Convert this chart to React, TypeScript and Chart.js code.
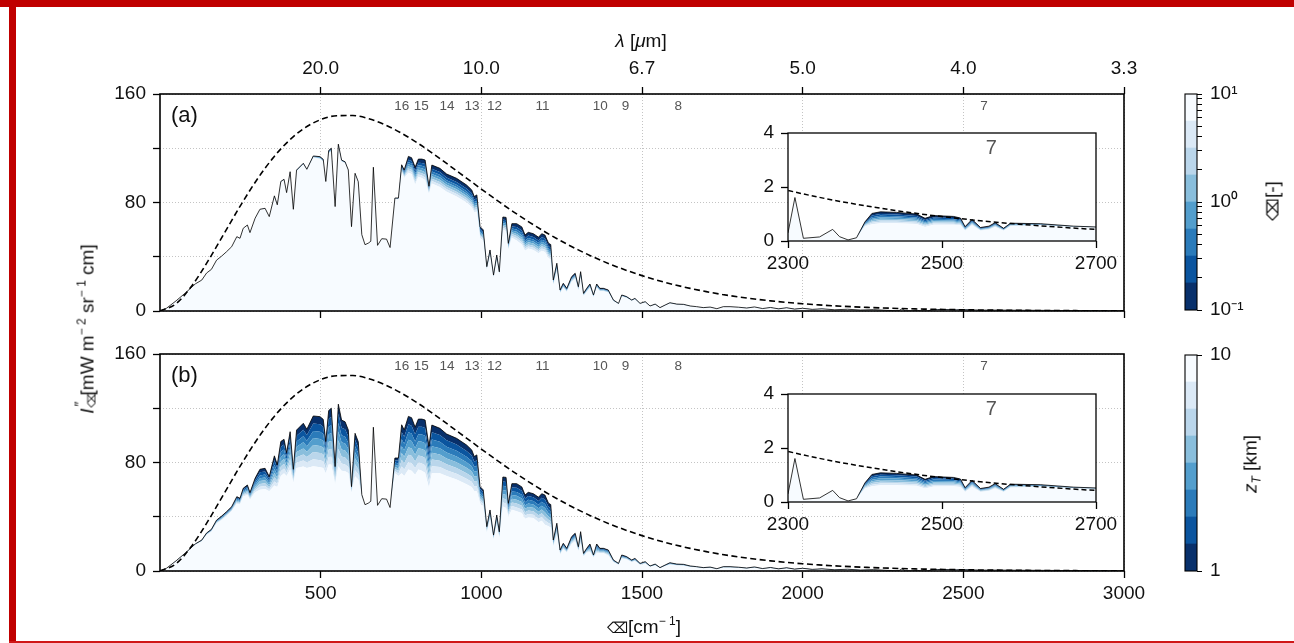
import React, { useEffect, useRef } from 'react';
import { Chart, registerables } from 'chart.js';
Chart.register(...registerables);

const FONT = '"Liberation Sans", Arial, Helvetica, sans-serif';

// ---------- data ----------
const nu = [
  0, 20, 50, 80, 110, 130, 145, 160, 176, 192,
  207, 223, 239, 249, 259, 272, 280, 296, 311, 327,
  340, 356, 365, 376, 386, 394, 405, 415, 425, 446,
  457, 477, 498, 508, 516, 525, 533, 545, 555, 565,
  576, 586, 596, 607, 617, 628, 638, 648, 656, 664,
  677, 690, 705, 716, 731, 742, 752, 760, 773, 783,
  794, 804, 815, 825, 837, 846, 871, 892, 923, 954,
  970, 978, 986, 996, 1006, 1017, 1027, 1038, 1048, 1056,
  1067, 1077, 1084, 1095, 1110, 1126, 1136, 1146, 1162, 1178,
  1188, 1198, 1209, 1216, 1224, 1235, 1245, 1255, 1266, 1281,
  1292, 1302, 1309, 1318, 1328, 1338, 1349, 1359, 1369, 1380,
  1395, 1411, 1427, 1437, 1452, 1468, 1478, 1494, 1510, 1525,
  1541, 1556, 1572, 1587, 1608, 1629, 1650, 1670, 1691, 1712,
  1733, 1753, 1774, 1800, 1826, 1850, 1875, 1900, 1925, 1950,
  1975, 2000, 2030, 2060, 2100, 2140, 2180, 2220, 2260, 2290,
  2300, 2309, 2320, 2341, 2358, 2367, 2378, 2389, 2400, 2409,
  2420, 2441, 2467, 2478, 2489, 2515, 2524, 2530, 2539, 2550,
  2561, 2569, 2580, 2589, 2628, 2671, 2700, 2750, 2800, 2850,
  2900, 2950, 3000,
];

// top (thinnest / darkest) spectrum, black line
const radTop = [
  0, 2, 7.5, 13.5, 20, 22.8, 28, 30.7, 37.5, 40.5,
  43.7, 47.4, 54.8, 53.6, 61, 63.4, 57.8, 68.4, 75, 75.7,
  69.6, 84.9, 78.3, 95.5, 97.1, 87.3, 102.7, 75, 103.9, 108.9,
  104.5, 114.3, 113.8, 111.8, 95.5, 118.3, 120, 77, 123, 111.3,
  110, 104, 62.2, 101.5, 95.3, 56.3, 48.9, 50, 51.4, 106,
  48.4, 53.3, 53, 46.8, 83.3, 83.3, 107.8, 104, 114, 113,
  106, 112, 112, 111.3, 92, 107.6, 105.2, 101, 97.8, 92.9,
  89.3, 84.4, 85.6, 62.2, 59.8, 32.7, 45, 26.5, 41.3, 28.9,
  69.3, 69, 49.9, 64.4, 64.4, 62, 56, 58, 57, 54.4,
  57, 56, 50, 49, 22.9, 35.2, 15.5, 20.4, 16.7, 25.3,
  27.8, 17.9, 29, 13, 16.7, 19.9, 11.8, 19.9, 16.7, 16.7,
  15.5, 8.1, 5.6, 11.8, 10.6, 8.1, 9.3, 5.6, 6.9, 3.7,
  5.1, 2.5, 4.4, 6.1, 5.1, 4.9, 3.7, 3.2, 2.5, 2.9,
  1.7, 3.2, 3.2, 2.8, 2.2, 3.0, 1.8, 2.6, 1.6, 2.4,
  1.4, 2.0, 1.2, 1.6, 0.9, 1.3, 0.7, 1.0, 0.5, 0.2,
  0.3, 1.61, 0.1, 0.15, 0.43, 0.16, 0.04, 0.12, 0.71, 1.02,
  1.08, 1.06, 1.0, 0.84, 0.94, 0.91, 0.85, 0.53, 0.8, 0.5,
  0.55, 0.68, 0.47, 0.66, 0.64, 0.55, 0.52, 0.45, 0.38, 0.33,
  0.28, 0.23, 0.2,
];

// panel (a): lowest (tau = 10) spectrum, top of the palest fill
const radBaseA = [
  0, 2, 7.5, 13.5, 20, 22.8, 28, 30.7, 37.5, 40.5,
  43.7, 47.4, 54.8, 53.6, 61, 63.4, 57.8, 68.4, 75, 75.5,
  69.6, 84, 78, 95, 96.5, 87, 102, 75, 103, 108,
  104, 113, 112, 110, 95, 116, 117.5, 76, 121, 110,
  109, 103.5, 62.2, 101, 95, 56.3, 48.9, 50, 51.4, 106,
  48.4, 53.3, 53, 46.8, 83, 82, 102.7, 98, 102, 101,
  93, 99, 98, 96.6, 86, 94, 91.5, 88, 84.5, 80,
  76.5, 73, 73.2, 54, 52, 30, 41, 24.5, 37, 26.5,
  60, 59, 45, 54, 52, 49, 44.5, 46, 45, 42.5,
  44.5, 43.5, 39, 38, 19, 29, 13, 17, 14, 21.5,
  23.5, 15, 24.5, 11, 14, 17, 10, 17, 14.5, 14.5,
  13.5, 7.2, 5, 10.5, 9.6, 7.4, 8.5, 5.2, 6.3, 3.4,
  4.7, 2.3, 4, 5.6, 4.7, 4.5, 3.4, 3, 2.3, 2.7,
  1.6, 3, 3, 2.6, 2.0, 2.8, 1.7, 2.4, 1.5, 2.2,
  1.3, 1.9, 1.1, 1.5, 0.85, 1.2, 0.65, 0.95, 0.5, 0.2,
  0.3, 1.61, 0.1, 0.15, 0.43, 0.16, 0.04, 0.12, 0.55, 0.62,
  0.66, 0.66, 0.63, 0.52, 0.6, 0.6, 0.58, 0.38, 0.58, 0.38,
  0.42, 0.52, 0.38, 0.55, 0.58, 0.52, 0.5, 0.43, 0.37, 0.32,
  0.27, 0.22, 0.19,
];

// panel (b): lowest (z_T = 10 km) spectrum, top of the palest fill
const radBaseB = [
  0, 2, 7.3, 13, 19.3, 21.8, 26.5, 29, 35, 37.5,
  40.5, 44, 49.5, 49, 55, 56, 52.6, 58, 60, 60.5,
  58.8, 63, 62, 70, 72, 70, 74.8, 65, 76, 77,
  76, 77.3, 76.5, 76, 72, 78.5, 78.5, 63.7, 77.3, 74,
  73.5, 72.3, 57.5, 69.8, 67.4, 55.5, 48.9, 50, 51.4, 106,
  48.4, 53.3, 53, 46.8, 72, 70, 72, 70, 74.8, 74,
  71, 74.8, 74, 72.5, 61.4, 72.3, 72, 70, 67.4, 64,
  62, 59, 58.8, 50, 47.7, 28, 38, 23, 34, 24,
  47.6, 46.5, 40.2, 45.2, 44, 42.7, 38.5, 39.5, 39, 36,
  37, 34.1, 33, 32, 18, 26.7, 12, 16, 13.5, 20,
  22, 14.5, 20.6, 10.5, 13.5, 14, 10, 13, 13, 13,
  11.5, 6.5, 4.4, 9, 8.5, 6.5, 7.2, 4.4, 5.4, 3,
  4, 2, 3.5, 4.6, 4, 3.8, 2.9, 2.5, 1.9, 2.2,
  1.3, 2.4, 2.4, 2.2, 1.7, 2.3, 1.4, 2.0, 1.2, 1.9,
  1.1, 1.6, 0.9, 1.2, 0.7, 1.0, 0.55, 0.8, 0.45, 0.2,
  0.3, 1.61, 0.1, 0.15, 0.43, 0.16, 0.04, 0.12, 0.5, 0.58,
  0.62, 0.62, 0.6, 0.5, 0.57, 0.58, 0.56, 0.37, 0.56, 0.37,
  0.41, 0.5, 0.37, 0.53, 0.56, 0.5, 0.48, 0.42, 0.36, 0.31,
  0.26, 0.22, 0.19,
];

// dashed surface (blackbody) curve
const planckNu = [
  0, 50, 100, 150, 200, 250, 300, 350, 400, 450,
  500, 550, 600, 650, 700, 750, 800, 850, 900, 950,
  1000, 1050, 1100, 1150, 1200, 1250, 1300, 1350, 1400, 1450,
  1500, 1550, 1600, 1650, 1700, 1750, 1800, 1850, 1900, 1950,
  2000, 2050, 2100, 2150, 2200, 2250, 2300, 2350, 2400, 2450,
  2500, 2550, 2600, 2650, 2700, 2750, 2800, 2850, 2900, 2950, 3000,
];
const planckRad = [
  0, 5.37, 18.87, 37.1, 57.35, 77.57, 96.24, 112.35, 125.3, 134.9,
  141.1, 144.0, 144.1, 141.8, 137.3, 131.3, 124.1, 116.0, 107.4, 98.66,
  89.91, 81.36, 73.15, 65.37, 58.1, 51.4, 45.24, 39.65, 34.62, 30.11,
  26.09, 22.54, 19.41, 16.67, 14.27, 12.19, 10.38, 8.82, 7.49, 6.33,
  5.35, 4.51, 3.8, 3.19, 2.68, 2.24, 1.873, 1.563, 1.305, 1.087,
  0.904, 0.751, 0.623, 0.517, 0.428, 0.354, 0.2925, 0.2416, 0.199, 0.1645, 0.135,
];

// relative thickness of the 7 coloured bands, from the palest upward
const bandSharesA = [0.13, 0.13, 0.13, 0.13, 0.13, 0.15, 0.2];
const bandSharesB = [0.14, 0.14, 0.14, 0.14, 0.14, 0.15, 0.15];
const baseFill = '#f7fbff';
const bandColors = ['#dbe9f6', '#bad6eb', '#89bedc', '#539ecd', '#2b7bba', '#0b559f', '#08306b'];
const colorbarColors = ['#08306b', '#0b559f', '#2b7bba', '#539ecd', '#89bedc', '#bad6eb', '#dbe9f6', '#f7fbff'];

const xTickValues = [500, 1000, 1500, 2000, 2500, 3000];
const lambdaTickLabels = ['20.0', '10.0', '6.7', '5.0', '4.0', '3.3'];
const yTickValues = [0, 40, 80, 120, 160];
const yTickLabels = ['0', '', '80', '', '160'];
const insetXTicks = [2300, 2500, 2700];
const insetYTicks = [0, 2, 4];

const channelLabels = ['16', '15', '14', '13', '12', '11', '10', '9', '8', '7'];
const channelNu = [752, 813, 893, 971, 1041, 1190, 1370, 1449, 1613, 2564];
const insetChannel = '7';

const tauEdges = [0.1, 0.178, 0.316, 0.562, 1, 1.78, 3.16, 5.62, 10];
const tauTickValues = [0.1, 0.2, 0.3, 0.4, 0.5, 0.6, 0.7, 0.8, 0.9, 1, 2, 3, 4, 5, 6, 7, 8, 9, 10];
const tauTickLabels = ['10⁻¹', '', '', '', '', '', '', '', '', '10⁰', '', '', '', '', '', '', '', '', '10¹'];
const zEdges = [1, 2.125, 3.25, 4.375, 5.5, 6.625, 7.75, 8.875, 10];
const zTickValues = [1, 10];
const zTickLabels = ['1', '10'];

// ---------- helpers ----------
function buildDatasets(base: number[], shares: number[], dashW: number, dash: number[]) {
  const curves: { x: number; y: number }[][] = [];
  curves.push(base.map((b, i) => ({ x: nu[i], y: b })));
  let cum = 0;
  shares.forEach((s, k) => {
    cum += s;
    const last = k === shares.length - 1;
    curves.push(base.map((b, i) => ({ x: nu[i], y: last ? radTop[i] : b + cum * (radTop[i] - b) })));
  });
  const ds: any[] = curves.map((c, k) => ({
    data: c,
    pointRadius: 0,
    borderWidth: 0,
    borderColor: 'rgba(0,0,0,0)',
    backgroundColor: k === 0 ? baseFill : bandColors[k - 1],
    fill: k === 0 ? 'origin' : '-1',
    order: 10,
  }));
  ds.push({
    data: radTop.map((v, i) => ({ x: nu[i], y: v })),
    pointRadius: 0, borderWidth: 0.8, borderColor: '#000', fill: false, order: 5,
  });
  ds.push({
    data: planckNu.map((v, i) => ({ x: v, y: planckRad[i] })),
    pointRadius: 0, borderWidth: dashW, borderColor: '#000', borderDash: dash,
    fill: false, tension: 0.4, cubicInterpolationMode: 'monotone', order: 1,
  });
  return ds;
}

const framePlugin = (lw: number) => ({
  id: 'frame',
  afterDraw(chart: any) {
    const { ctx, chartArea: a } = chart;
    ctx.save();
    ctx.strokeStyle = '#000';
    ctx.lineWidth = lw;
    ctx.setLineDash([]);
    ctx.strokeRect(a.left, a.top, a.right - a.left, a.bottom - a.top);
    ctx.restore();
  },
});

const whiteAreaPlugin = {
  id: 'whiteArea',
  beforeDraw(chart: any) {
    const { ctx, chartArea: a } = chart;
    ctx.save();
    ctx.fillStyle = '#fff';
    ctx.fillRect(a.left, a.top, a.right - a.left, a.bottom - a.top);
    ctx.restore();
  },
};

const panelTextPlugin = (tag: string) => ({
  id: 'panelText',
  afterDraw(chart: any) {
    const { ctx, chartArea: a, scales } = chart;
    ctx.save();
    ctx.font = `22px ${FONT}`;
    ctx.fillStyle = '#111';
    ctx.textAlign = 'left';
    ctx.textBaseline = 'middle';
    ctx.fillText(tag, a.left + 11, a.top + 22);
    ctx.font = `13.5px ${FONT}`;
    ctx.fillStyle = '#555';
    ctx.textAlign = 'center';
    channelLabels.forEach((t, i) => {
      ctx.fillText(t, scales.x.getPixelForValue(channelNu[i]), a.top + 12);
    });
    ctx.restore();
  },
});

const insetTextPlugin = {
  id: 'insetText',
  afterDraw(chart: any) {
    const { ctx, chartArea: a, scales } = chart;
    const i = channelLabels.indexOf(insetChannel);
    ctx.save();
    ctx.font = `20px ${FONT}`;
    ctx.fillStyle = '#555';
    ctx.textAlign = 'center';
    ctx.textBaseline = 'middle';
    ctx.fillText(insetChannel, scales.x.getPixelForValue(channelNu[i]), a.top + 15);
    ctx.restore();
  },
};

const tickFont = { family: FONT, size: 19 };
const gridCommon = { color: '#c4c4c4', lineWidth: 1, tickLength: 7, tickColor: '#000', tickWidth: 1.3 };

function mainConfig(panel: 'a' | 'b'): any {
  const isA = panel === 'a';
  const scales: any = {
    x: {
      type: 'linear', position: 'bottom', min: 0, max: 3000,
      afterBuildTicks: (s: any) => { s.ticks = xTickValues.map((v) => ({ value: v })); },
      afterFit: (s: any) => { s.height = isA ? 23 : 69; s.paddingLeft = 0; s.paddingRight = 0; },
      ticks: { display: !isA, font: tickFont, color: '#111', padding: 4, maxRotation: 0, autoSkip: false, callback: (v: any) => String(v) },
      grid: { ...gridCommon, drawOnChartArea: true },
      border: { display: false, dash: [1, 2] },
    },
    y: {
      type: 'linear', position: 'left', min: 0, max: 160,
      afterBuildTicks: (s: any) => { s.ticks = yTickValues.map((v) => ({ value: v })); },
      afterFit: (s: any) => { s.width = 70; s.paddingTop = 0; s.paddingBottom = 0; },
      ticks: { font: tickFont, color: '#111', padding: 7, autoSkip: false, callback: (_v: any, i: number) => yTickLabels[i] },
      grid: { ...gridCommon, drawOnChartArea: true },
      border: { display: false, dash: [1, 2] },
    },
  };
  if (isA) {
    scales.xTop = {
      type: 'linear', position: 'top', min: 0, max: 3000,
      afterBuildTicks: (s: any) => { s.ticks = xTickValues.map((v) => ({ value: v })); },
      afterFit: (s: any) => { s.height = 80; s.paddingLeft = 0; s.paddingRight = 0; },
      ticks: { font: tickFont, color: '#111', padding: 7, maxRotation: 0, autoSkip: false, callback: (_v: any, i: number) => lambdaTickLabels[i] },
      grid: { ...gridCommon, drawOnChartArea: false },
      border: { display: false },
    };
  }
  return {
    type: 'line',
    data: { datasets: buildDatasets(isA ? radBaseA : radBaseB, isA ? bandSharesA : bandSharesB, 1.6, [6, 3.5]) },
    options: {
      responsive: false, animation: false, devicePixelRatio: 1,
      layout: { padding: { left: 0, right: 36, top: isA ? 0 : 14, bottom: 0 } },
      plugins: { legend: { display: false }, tooltip: { enabled: false } },
      scales,
    },
    plugins: [framePlugin(1.6), panelTextPlugin(isA ? '(a)' : '(b)')],
  };
}

function insetConfig(panel: 'a' | 'b'): any {
  const isA = panel === 'a';
  const g = { ...gridCommon, drawOnChartArea: false, tickLength: 7 };
  return {
    type: 'line',
    data: { datasets: buildDatasets(isA ? radBaseA : radBaseB, isA ? bandSharesA : bandSharesB, 1.5, [5, 3]) },
    options: {
      responsive: false, animation: false, devicePixelRatio: 1,
      layout: { padding: { left: 0, right: 24, top: 15, bottom: 0 } },
      plugins: { legend: { display: false }, tooltip: { enabled: false } },
      scales: {
        x: {
          type: 'linear', min: 2300, max: 2700,
          afterBuildTicks: (s: any) => { s.ticks = insetXTicks.map((v) => ({ value: v })); },
          afterFit: (s: any) => { s.height = 42; s.paddingLeft = 0; s.paddingRight = 0; },
          ticks: { font: tickFont, color: '#111', padding: 4, maxRotation: 0, autoSkip: false, callback: (v: any) => String(v) },
          grid: g, border: { display: false },
        },
        y: {
          type: 'linear', min: 0, max: 4,
          afterBuildTicks: (s: any) => { s.ticks = insetYTicks.map((v) => ({ value: v })); },
          afterFit: (s: any) => { s.width = 48; s.paddingTop = 0; s.paddingBottom = 0; },
          ticks: { font: tickFont, color: '#111', padding: 7, autoSkip: false, callback: (v: any) => String(v) },
          grid: g, border: { display: false },
        },
      },
    },
    plugins: [whiteAreaPlugin, framePlugin(1.3), insetTextPlugin],
  };
}

function colorbarConfig(kind: 'tau' | 'z'): any {
  const isTau = kind === 'tau';
  const edges = isTau ? tauEdges : zEdges;
  const tickVals = isTau ? tauTickValues : zTickValues;
  const tickLabs = isTau ? tauTickLabels : zTickLabels;
  return {
    type: 'bar',
    data: {
      labels: ['c'],
      datasets: edges.slice(0, -1).map((lo, i) => ({
        data: [[lo, edges[i + 1]]],
        backgroundColor: colorbarColors[i],
        borderWidth: 0,
        barPercentage: 1,
        categoryPercentage: 1,
        grouped: false,
      })),
    },
    options: {
      responsive: false, animation: false, devicePixelRatio: 1,
      layout: { padding: { left: 5, right: 0, top: 14, bottom: 15 } },
      plugins: { legend: { display: false }, tooltip: { enabled: false } },
      scales: {
        x: { display: false },
        y: {
          type: isTau ? 'logarithmic' : 'linear', position: 'right',
          min: edges[0], max: edges[edges.length - 1],
          afterBuildTicks: (s: any) => { s.ticks = tickVals.map((v) => ({ value: v })); },
          afterFit: (s: any) => { s.width = 83; s.paddingTop = 0; s.paddingBottom = 0; },
          ticks: { font: tickFont, color: '#111', padding: 8, autoSkip: false, callback: (_v: any, i: number) => tickLabs[i] },
          grid: { drawOnChartArea: false, drawTicks: true, tickLength: 5, color: '#000', tickWidth: 1 },
          border: { display: false },
        },
      },
    },
    plugins: [framePlugin(1.1)],
  };
}

function ChartBox(props: { left: number; top: number; width: number; height: number; make: () => any }) {
  const ref = useRef<HTMLCanvasElement>(null);
  useEffect(() => {
    const chart = new Chart(ref.current as HTMLCanvasElement, props.make());
    return () => chart.destroy();
  }, []);
  return (
    <canvas
      ref={ref}
      width={props.width}
      height={props.height}
      style={{ position: 'absolute', left: props.left, top: props.top, width: props.width, height: props.height }}
    />
  );
}

const txt: React.CSSProperties = {
  position: 'absolute',
  fontFamily: FONT,
  fontSize: 19,
  color: '#111',
  whiteSpace: 'nowrap',
  lineHeight: 1,
};
const sup: React.CSSProperties = { fontSize: 12, position: 'relative', top: -8 };

export default function App() {
  return (
    <div style={{ position: 'fixed', left: 0, top: 0, width: 1294, height: 643, background: '#fff', overflow: 'hidden' }}>
      {/* red frame */}
      <div style={{ position: 'absolute', left: 0, top: 0, width: 1294, height: 7, background: '#c00000' }} />
      <div style={{ position: 'absolute', left: 9, top: 0, width: 7, height: 643, background: '#c00000' }} />
      <div style={{ position: 'absolute', left: 9, top: 641, width: 1285, height: 2, background: '#d01818' }} />

      <ChartBox left={90} top={14} width={1070} height={320} make={() => mainConfig('a')} />
      <ChartBox left={90} top={340} width={1070} height={300} make={() => mainConfig('b')} />
      <ChartBox left={740} top={118} width={380} height={165} make={() => insetConfig('a')} />
      <ChartBox left={740} top={379} width={380} height={165} make={() => insetConfig('b')} />
      <ChartBox left={1180} top={80} width={100} height={245} make={() => colorbarConfig('tau')} />
      <ChartBox left={1180} top={341} width={100} height={245} make={() => colorbarConfig('z')} />

      {/* top axis title */}
      <div style={{ ...txt, left: 641, top: 40, transform: 'translate(-50%,-50%)' }}>
        <i>λ</i> [<i>μ</i>m]
      </div>
      {/* bottom axis title */}
      <div style={{ ...txt, left: 644, top: 626, transform: 'translate(-50%,-50%)' }}>
        <span style={{ fontSize: 15 }}>⌫</span>[cm<span style={sup}>− 1</span>]
      </div>
      {/* shared y axis title */}
      <div style={{ ...txt, left: 87, top: 329, transform: 'translate(-50%,-50%) rotate(-90deg)' }}>
        <i>I</i>
        <span style={{ display: 'inline-block', position: 'relative', width: 13, height: 19, verticalAlign: 'top' }}>
          <span style={{ position: 'absolute', left: 2, top: -5, fontSize: 14 }}>″</span>
          <span style={{ position: 'absolute', left: 1, top: 9, fontSize: 11 }}>⌫</span>
        </span>
        [mW m<span style={sup}>− 2</span> sr<span style={sup}>− 1</span> cm]
      </div>
      {/* colorbar titles */}
      <div style={{ ...txt, left: 1272, top: 201, transform: 'translate(-50%,-50%) rotate(-90deg)' }}>
        <span style={{ fontSize: 16 }}>⌫</span>[-]
      </div>
      <div style={{ ...txt, left: 1250, top: 464, transform: 'translate(-50%,-50%) rotate(-90deg)' }}>
        <i>z</i><i style={{ fontSize: 12, position: 'relative', top: 4 }}>T</i> [km]
      </div>
    </div>
  );
}
